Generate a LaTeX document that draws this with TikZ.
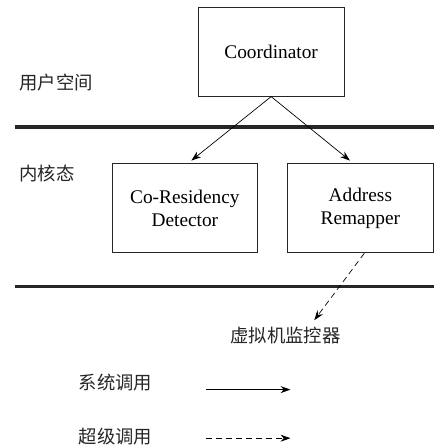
\documentclass[tikz,border=0pt]{standalone}
\usepackage{fontspec}
\setmainfont{Liberation Serif}
\newfontfamily\cjk{Noto Sans CJK SC}
\usetikzlibrary{arrows.meta}

\tikzset{
    modbox/.style={draw=black!85, line width=0.9pt, minimum width=147pt, minimum height=90pt,
        align=center, font=\fontsize{19.5}{23}\selectfont},
    cnlabel/.style={font=\cjk\fontsize{18.5}{22}\selectfont\color{black!85}},
    ring/.style={line width=#1, black!85},
    call/.style={-{Stealth[length=10pt,width=7pt]}, line width=0.7pt},
    hcall/.style={call, dashed, dash pattern=on 6pt off 4pt}
}

\begin{document}
\begin{tikzpicture}[x=1pt,y=-1pt]
            \fill[white] (0,0) rectangle (438,448);
            % privilege boundaries
            \coordinate (ul) at (15,128);
            \coordinate (ur) at (438,128);
            \coordinate (kl) at (15,289);
            \coordinate (kr) at (438,289);
            \draw[ring=4pt] (ul) -- (ur);
            \draw[ring=3pt] (kl) -- (kr);

            \node[cnlabel, anchor=west] (user) at (16,83) {用户空间};
            \node[cnlabel, anchor=west] (kernel) at (16,175) {内核态};

            \node[modbox, minimum height=89pt] (coord) at (273.5,52.5) {Coordinator};
            \node[modbox] (detect) at (186.5,210) {Co-Residency\\Detector};
            \node[modbox] (remap) at (363.5,210) {Address\\Remapper};
            \node[cnlabel] (hv) at (288,338) {虚拟机监控器};

            \coordinate (dtip) at (193,162);
            \coordinate (rtip) at (353,162);
            \coordinate (htip) at (317,323);
            \draw[call] (coord.south) -- (dtip);
            \draw[call] (coord.south) -- (rtip);
            \draw[hcall] ([xshift=4pt]remap.south) -- (htip);

            % legend
            \node[cnlabel, anchor=west] (sys) at (76,386) {系统调用};
            \node[cnlabel, anchor=west] (hyp) at (76,440) {超级调用};
            \coordinate (sa) at (208,393);
            \coordinate (sb) at (293,393);
            \coordinate (ha) at (208,442);
            \coordinate (hb) at (293,442);
            \draw[call] (sa) -- (sb);
            \draw[hcall] (ha) -- (hb);
            \useasboundingbox (0,0) rectangle (438,448);
\end{tikzpicture}
\end{document}
